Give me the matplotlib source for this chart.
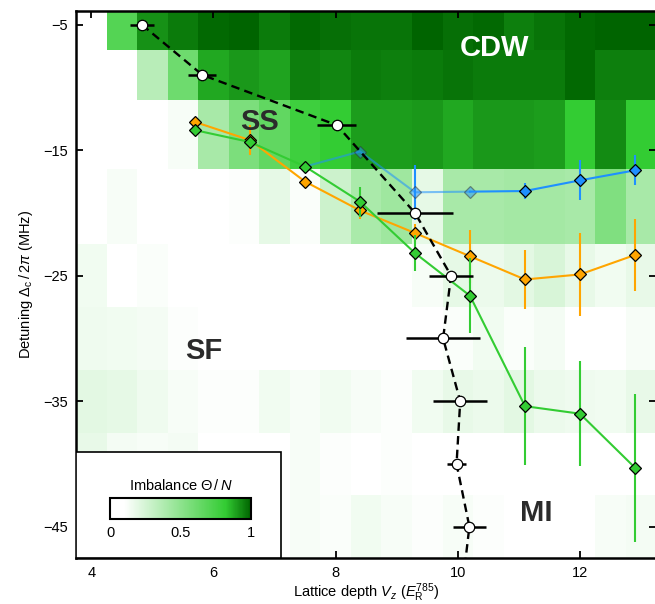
import numpy as np
import matplotlib
matplotlib.use('Agg')
import matplotlib.pyplot as plt
from matplotlib.colors import LinearSegmentedColormap
from matplotlib.patches import Rectangle

plt.rcParams['font.family'] = ['Liberation Sans', 'DejaVu Sans']
plt.rcParams['mathtext.fontset'] = 'custom'
plt.rcParams['mathtext.rm'] = 'Liberation Sans'
plt.rcParams['mathtext.it'] = 'Liberation Sans:italic'
plt.rcParams['mathtext.bf'] = 'Liberation Sans:bold'

# heatmap grid (imbalance Theta/N)
lattice_depths = [4.0, 4.5, 5.0, 5.5, 6.0, 6.5, 7.0, 7.5, 8.0, 8.5,
                  9.0, 9.5, 10.0, 10.5, 11.0, 11.5, 12.0, 12.5, 13.0]
detunings = [-5, -9, -13, -20, -25, -30, -35, -40, -45]
imbalance = [
    [0.00, 0.70, 0.92, 0.96, 0.99, 1.00, 0.96, 0.99, 0.98, 0.97, 0.97, 1.00, 0.98, 0.99, 0.95, 0.97, 0.99, 1.00, 1.00],
    [0.00, 0.00, 0.35, 0.61, 0.88, 0.91, 0.89, 0.95, 0.94, 0.96, 0.95, 0.96, 0.97, 0.96, 0.96, 0.96, 0.99, 0.95, 0.95],
    [0.00, 0.00, 0.05, 0.13, 0.41, 0.56, 0.66, 0.78, 0.82, 0.90, 0.90, 0.91, 0.88, 0.91, 0.91, 0.90, 0.82, 0.93, 0.82],
    [0.00, 0.13, 0.00, 0.00, 0.00, 0.11, 0.19, 0.12, 0.28, 0.40, 0.44, 0.19, 0.41, 0.41, 0.42, 0.42, 0.41, 0.55, 0.41],
    [0.15, 0.00, 0.12, 0.00, 0.00, 0.00, 0.05, 0.05, 0.08, 0.05, 0.06, 0.13, 0.19, 0.17, 0.20, 0.24, 0.18, 0.15, 0.18],
    [0.16, 0.15, 0.14, 0.11, 0.08, 0.05, 0.06, 0.03, 0.10, 0.10, 0.08, 0.05, 0.12, 0.15, 0.12, 0.14, 0.10, 0.05, 0.13],
    [0.20, 0.19, 0.16, 0.13, 0.11, 0.11, 0.15, 0.13, 0.15, 0.13, 0.11, 0.15, 0.18, 0.17, 0.20, 0.17, 0.16, 0.15, 0.18],
    [0.18, 0.14, 0.13, 0.14, 0.10, 0.10, 0.10, 0.13, 0.11, 0.05, 0.11, 0.05, 0.10, 0.05, 0.05, 0.05, 0.05, 0.08, 0.10],
    [0.17, 0.14, 0.12, 0.12, 0.10, 0.10, 0.10, 0.13, 0.12, 0.15, 0.13, 0.11, 0.13, 0.11, 0.05, 0.05, 0.05, 0.13, 0.14],
]

# phase boundary SF/MI (white circles)
boundary_vz = [4.83, 5.82, 8.02, 9.30, 9.89, 9.76, 10.04, 9.98, 10.19]
boundary_det = [-5, -9, -13, -20, -25, -30, -35, -40, -45]
boundary_vz_err = [0.20, 0.23, 0.32, 0.62, 0.36, 0.60, 0.44, 0.15, 0.27]
# dashed guide continues below the plot
boundary_tail_vz = 10.07
boundary_tail_det = -50

# diamond series
series_vz = [5.7, 6.6, 7.5, 8.4, 9.3, 10.2, 11.1, 12.0, 12.9]
green_det = [-13.4, -14.35, -16.3, -19.1, -23.2, -26.6, -35.4, -36.0, -40.3]
green_err = [0, 0, 0, 1.2, 1.45, 3.0, 4.7, 4.2, 5.9]
orange_det = [-12.75, -14.2, -17.5, -19.8, -21.6, -23.45, -25.3, -24.9, -23.35]
orange_err = [0, 1.2, 0, 0.7, 0.7, 2.1, 2.35, 3.3, 2.9]
blue_vz = [7.5, 8.4, 9.3, 10.2, 11.1, 12.0, 12.9]
blue_det = [-16.3, -15.1, -18.35, -18.3, -18.25, -17.4, -16.6]
blue_err = [0, 0, 2.2, 0, 0.65, 1.6, 1.2]
blue_faded = 4  # first points drawn faded


def edges(centers):
    c = np.asarray(centers, dtype=float)
    mid = (c[1:] + c[:-1]) / 2
    return np.concatenate([[c[0] - (c[1] - c[0]) / 2], mid, [c[-1] + (c[-1] - c[-2]) / 2]])


cmap = LinearSegmentedColormap.from_list(
    'imb', [(0.0, '#ffffff'), (0.1, '#ffffff'), (0.82, '#33cc33'), (1.0, '#006400')])

fig = plt.figure(figsize=(6.55, 6.04), dpi=100)
ax = fig.add_axes([0.116, 0.0762, 0.886, 0.9056])

mesh = ax.pcolormesh(edges(lattice_depths), edges(detunings), np.array(imbalance),
                     cmap=cmap, vmin=0, vmax=1, shading='flat', zorder=0)

c_orange = '#ffa500'
c_green = '#33cc33'
c_blue = '#1e90ff'

# blue (faded part first)
ax.plot(blue_vz[:blue_faded], blue_det[:blue_faded], color=c_blue, lw=1.5, alpha=0.55, zorder=2)
ax.plot(blue_vz[1:blue_faded], blue_det[1:blue_faded], 'D', ms=6.3, mfc=c_blue, mec='#333333',
        mew=0.9, alpha=0.5, zorder=3)
ax.errorbar(blue_vz[blue_faded - 1:], blue_det[blue_faded - 1:], yerr=blue_err[blue_faded - 1:],
            color=c_blue, lw=1.5, elinewidth=1.5, zorder=3)
ax.errorbar(blue_vz[2], blue_det[2], yerr=blue_err[2], color=c_blue, elinewidth=1.5, fmt='none', zorder=2)
ax.plot(blue_vz[blue_faded:], blue_det[blue_faded:], 'D', ms=6.3, mfc=c_blue, mec='black',
        mew=0.9, zorder=4)

# orange
ax.errorbar(series_vz, orange_det, yerr=orange_err, color=c_orange, lw=1.5, elinewidth=1.5,
            marker='D', ms=6.3, mfc=c_orange, mec='black', mew=0.9, zorder=4)
# green
ax.errorbar(series_vz, green_det, yerr=green_err, color=c_green, lw=1.5, elinewidth=1.5,
            marker='D', ms=6.3, mfc=c_green, mec='black', mew=0.9, zorder=5)

# SF-MI boundary
ax.plot(boundary_vz + [boundary_tail_vz], boundary_det + [boundary_tail_det], color='black',
        lw=1.7, linestyle=(0, (3.6, 2.2)), zorder=6)
ax.errorbar(boundary_vz, boundary_det, xerr=boundary_vz_err, fmt='o', ms=7.5, mfc='white',
            mec='black', mew=0.9, ecolor='black', elinewidth=1.8, zorder=7)

# phase labels
ax.text(10.6, -6.85, 'CDW', color='white', fontsize=21, fontweight='bold',
        ha='center', va='center', zorder=8)
ax.text(6.75, -12.75, 'SS', color='#2b2b2b', fontsize=21, fontweight='bold',
        ha='center', va='center', zorder=8)
ax.text(5.84, -31.0, 'SF', color='#2b2b2b', fontsize=21, fontweight='bold',
        ha='center', va='center', zorder=8)
ax.text(11.29, -43.95, 'MI', color='#2b2b2b', fontsize=21, fontweight='bold',
        ha='center', va='center', zorder=8)

ax.set_xlim(3.75, 13.25)
ax.set_ylim(-47.5, -3.9)
ax.set_xticks([4, 6, 8, 10, 12])
ax.set_yticks([-5, -15, -25, -35, -45])
ax.tick_params(direction='in', length=5, width=1.3, top=True, right=True,
               labelsize=10.5, pad=6)
for s in ax.spines.values():
    s.set_linewidth(1.8)
ax.set_xlabel(r'Lattice depth $V_z$ ($E_\mathrm{R}^{785}$)', fontsize=10.5, labelpad=1)
ax.set_ylabel(r'Detuning $\Delta_\mathrm{c}\,/\,2\pi$ (MHz)', fontsize=10.5, labelpad=6)

# colorbar inset box
ax.add_patch(Rectangle((0, 0), 0.353, 0.194, transform=ax.transAxes, facecolor='white',
                       edgecolor='black', lw=1.2, zorder=9))
cax = fig.add_axes([0.168, 0.1407, 0.215, 0.0353])
cb = fig.colorbar(mesh, cax=cax, orientation='horizontal', ticks=[0, 0.5, 1])
cb.ax.set_xticklabels(['0', '0.5', '1'])
cb.ax.tick_params(length=0, labelsize=10.5, pad=5)
cb.outline.set_linewidth(1.5)
fig.text(0.276, 0.197, r'Imbalance $\Theta\,/\,N$', fontsize=10.5, ha='center', va='center')

fig.savefig('out.png', dpi=100)
